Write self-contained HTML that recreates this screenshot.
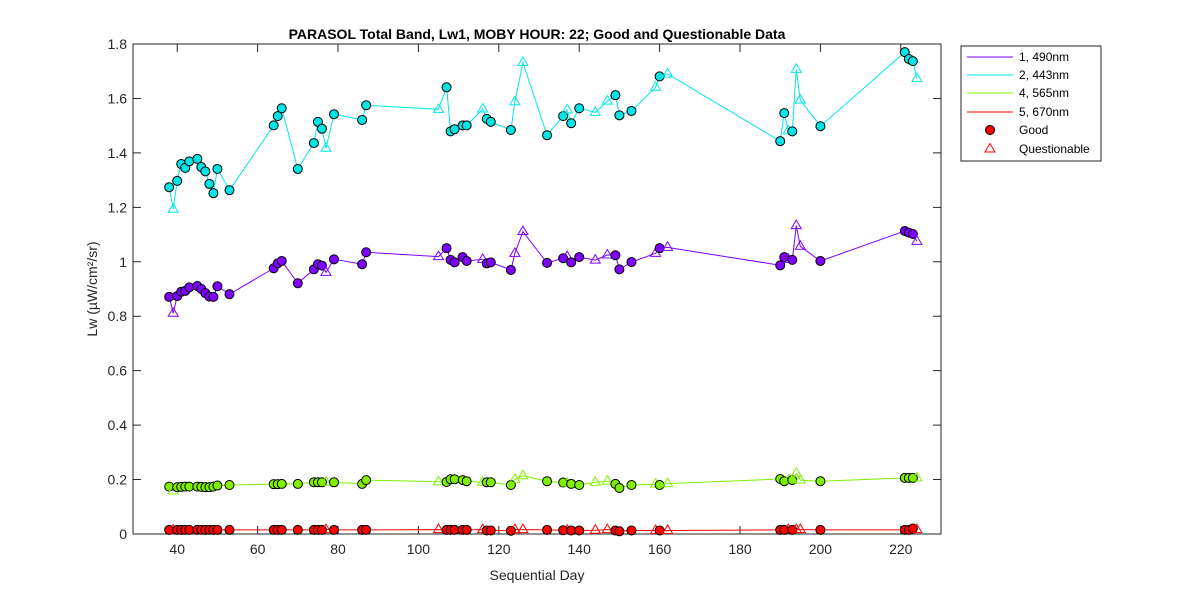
<!DOCTYPE html>
<html><head><meta charset="utf-8"><style>
body{margin:0;background:#fff;width:1200px;height:600px;overflow:hidden}
svg{display:block;font-family:"Liberation Sans",sans-serif}
</style></head><body>
<svg id="chart" width="1200" height="600" xmlns="http://www.w3.org/2000/svg">
<rect width="1200" height="600" fill="#fff"/>
<text x="537" y="39" text-anchor="middle" font-size="14" font-weight="bold" fill="#000">PARASOL Total Band,  Lw1, MOBY HOUR: 22;  Good and Questionable Data</text>
<text x="537" y="580" text-anchor="middle" font-size="14" fill="#262626">Sequential Day</text>
<text transform="translate(97,289) rotate(-90)" text-anchor="middle" font-size="14" fill="#262626">Lw (µW/cm²/sr)</text>
<g id="plot"></g>
<g>
<rect x="961" y="46" width="140" height="115" fill="#fff" stroke="#262626" stroke-width="1"/>
<line x1="967" y1="57" x2="1013" y2="57" stroke="#7f00ff"/><text x="1019" y="61" font-size="12" fill="#000">1, 490nm</text>
<line x1="967" y1="75" x2="1013" y2="75" stroke="#00e5e5"/><text x="1019" y="79" font-size="12" fill="#000">2, 443nm</text>
<line x1="967" y1="93" x2="1013" y2="93" stroke="#80f000"/><text x="1019" y="97" font-size="12" fill="#000">4, 565nm</text>
<line x1="967" y1="112" x2="1013" y2="112" stroke="#ff0000"/><text x="1019" y="116" font-size="12" fill="#000">5, 670nm</text>
<circle cx="990" cy="130" r="4.5" fill="#ff0000" stroke="#000"/><text x="1019" y="134" font-size="12" fill="#000">Good</text>
<polygon points="990,143.5 995,152 985,152" fill="none" stroke="#ff0000"/><text x="1019" y="153" font-size="12" fill="#000">Questionable</text>
</g>
</svg>
<script>
const days=[38,39,40,41,42,43,45,46,47,48,49,50,53,64,65,66,70,74,75,76,77,79,86,87,105,107,108,109,111,112,116,117,118,123,124,126,132,136,137,138,140,144,147,149,150,153,159,160,162,190,191,192,193,194,195,200,221,222,223,224];
const quality=["G","Q","G","G","G","G","G","G","G","G","G","G","G","G","G","G","G","G","G","G","Q","G","G","G","Q","G","G","G","G","G","Q","G","G","G","Q","Q","G","G","Q","G","G","Q","Q","G","G","G","Q","G","Q","G","G","Q","G","Q","Q","G","G","G","G","Q"];
const lw490=[0.871,0.811,0.874,0.890,0.893,0.906,0.911,0.900,0.885,0.872,0.871,0.910,0.881,0.976,0.994,1.003,0.921,0.972,0.991,0.986,0.961,1.009,0.991,1.035,1.019,1.050,1.007,0.998,1.017,1.003,1.009,0.994,0.998,0.970,1.031,1.111,0.996,1.013,1.019,0.998,1.017,1.006,1.025,1.024,0.972,0.999,1.031,1.050,1.053,0.987,1.017,1.009,1.007,1.133,1.057,1.003,1.113,1.107,1.102,1.075];
const lw443=[1.274,1.193,1.297,1.359,1.345,1.369,1.378,1.348,1.332,1.286,1.252,1.341,1.263,1.501,1.535,1.564,1.341,1.436,1.514,1.489,1.417,1.542,1.521,1.575,1.560,1.641,1.479,1.487,1.501,1.501,1.561,1.525,1.514,1.484,1.588,1.732,1.465,1.535,1.558,1.509,1.564,1.549,1.590,1.612,1.538,1.554,1.641,1.681,1.690,1.443,1.546,1.481,1.479,1.707,1.594,1.498,1.770,1.745,1.737,1.673];
const lw565=[0.174,0.158,0.172,0.173,0.174,0.174,0.174,0.173,0.172,0.172,0.174,0.178,0.180,0.183,0.183,0.184,0.184,0.190,0.190,0.190,0.190,0.190,0.184,0.198,0.192,0.191,0.201,0.201,0.198,0.194,0.190,0.190,0.190,0.180,0.201,0.214,0.194,0.189,0.187,0.184,0.180,0.190,0.194,0.184,0.169,0.180,0.183,0.180,0.185,0.202,0.194,0.198,0.198,0.223,0.198,0.194,0.206,0.206,0.206,0.206];
const lw670=[0.015,0.014,0.015,0.015,0.015,0.015,0.015,0.015,0.015,0.015,0.015,0.015,0.015,0.015,0.015,0.015,0.015,0.015,0.015,0.015,0.016,0.015,0.015,0.015,0.016,0.015,0.015,0.015,0.015,0.015,0.016,0.013,0.013,0.012,0.016,0.016,0.015,0.014,0.014,0.013,0.013,0.014,0.016,0.013,0.010,0.013,0.013,0.013,0.013,0.015,0.015,0.016,0.015,0.016,0.016,0.015,0.015,0.015,0.020,0.016];
const xTicks=[40,60,80,100,120,140,160,180,200,220];
const yTicks=[0,0.2,0.4,0.6,0.8,1,1.2,1.4,1.6,1.8];
const yTickLabels=["0","0.2","0.4","0.6","0.8","1","1.2","1.4","1.6","1.8"];

const L=133,R=941,T=44,B=534,XMIN=29,XMAX=230,YMIN=0,YMAX=1.8;
const xs=d=>L+(d-XMIN)/(XMAX-XMIN)*(R-L);
const ys=v=>B-(v-YMIN)/(YMAX-YMIN)*(B-T);
const NS="http://www.w3.org/2000/svg";
const plot=document.getElementById('plot');
function mk(tag,attrs,parent){const e=document.createElementNS(NS,tag);for(const k in attrs)e.setAttribute(k,attrs[k]);(parent||plot).appendChild(e);return e;}

const frame=mk('rect',{x:L,y:T,width:R-L,height:B-T,fill:'none',stroke:'#262626','stroke-width':1});


xTicks.forEach(t=>{
  const x=xs(t);
  const tk=mk('path',{d:`M${x},${B}V${B-8}M${x},${T}V${T+8}`,stroke:'#262626','stroke-width':1});
  
  
  const lb=mk('text',{x:x,y:B+20,'text-anchor':'middle','font-size':14,fill:'#262626'});
  lb.textContent=t;
  
  
});
yTicks.forEach((t,i)=>{
  const y=ys(t);
  const tk=mk('path',{d:`M${L},${y}H${L+8}M${R},${y}H${R-8}`,stroke:'#262626','stroke-width':1});
  
  
  const lb=mk('text',{x:L-6,y:y+5,'text-anchor':'end','font-size':14,fill:'#262626'});
  lb.textContent=yTickLabels[i];
  
  
});
const series=[
  {name:'490nm',vals:lw490,line:'#7f00ff',fill:'#7f00ff'},
  {name:'443nm',vals:lw443,line:'#00e8e8',fill:'#00e5e5'},
  {name:'565nm',vals:lw565,line:'#80f000',fill:'#80f000'},
  {name:'670nm',vals:lw670,line:'#ff0000',fill:'#ff0000'}
];
series.forEach(s=>{
  const g=mk('g',{});
  
  
  const pts=days.map((d,i)=>xs(d).toFixed(1)+','+ys(s.vals[i]).toFixed(1)).join(' ');
  const pl=mk('polyline',{points:pts,fill:'none',stroke:s.line,'stroke-width':1},g);
  
  
  days.forEach((d,i)=>{
    const x=xs(d),y=ys(s.vals[i]);
    if(quality[i]==='G'){
      const c=mk('circle',{cx:x,cy:y,r:4.5,fill:s.fill,stroke:'#000','stroke-width':1},g);
      
      
    }else{
      const p=mk('polygon',{points:`${x},${y-5.5} ${x+5},${y+3} ${x-5},${y+3}`,fill:'none',stroke:s.line,'stroke-width':1},g);
      
      
    }
  });
});
</script>
</body></html>
